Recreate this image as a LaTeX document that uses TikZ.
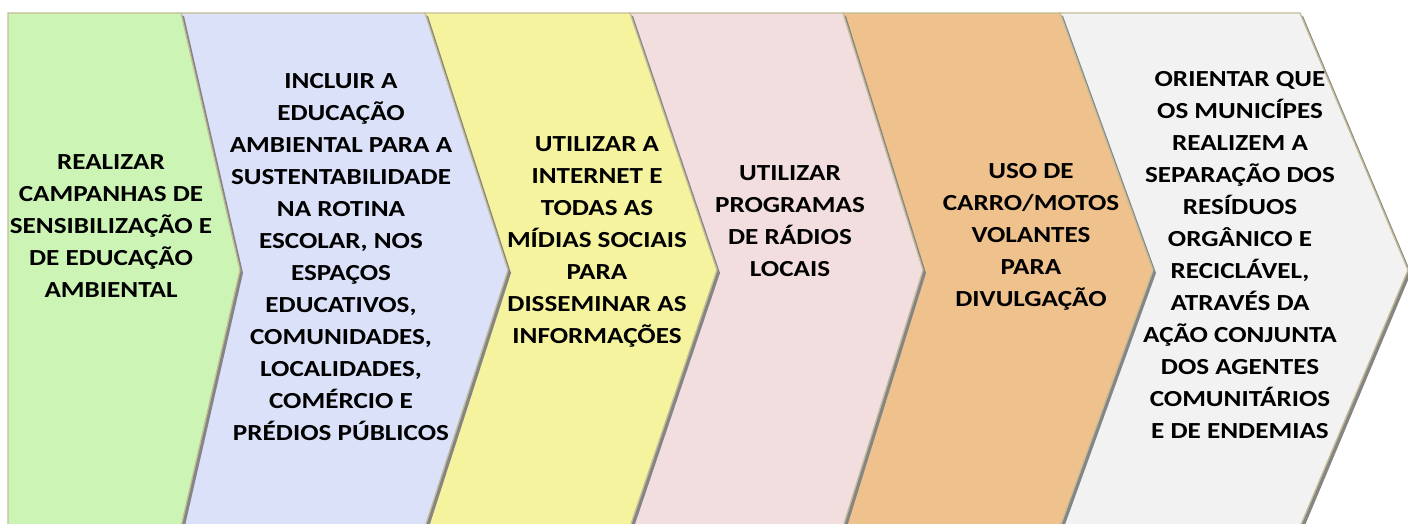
\documentclass[tikz,border=0pt]{standalone}
\usepackage{fontspec}
\setmainfont[FakeStretch=1.18]{Carlito}

\definecolor{chevgreen}{HTML}{CCF5B5}
\definecolor{chevblue}{HTML}{DAE1F8}
\definecolor{chevyellow}{HTML}{F5F39E}
\definecolor{chevpink}{HTML}{F2DEDE}
\definecolor{chevorange}{HTML}{EFC18D}
\definecolor{chevgray}{HTML}{F2F2F2}
\definecolor{chevline}{HTML}{C4BD97}
\definecolor{chevshadow}{HTML}{858585}

\begin{document}
\begin{tikzpicture}[x=1pt, y=-1pt,
  chevron/.style={draw=chevline, line width=1.3pt, line join=miter},
  chevshade/.style={fill=chevshadow},
  every node/.style={font=\bfseries\fontsize{23}{32}\selectfont, align=center, inner sep=0pt}
  ]
  \useasboundingbox (0,0) rectangle (1408,524);

  % chevrons, right to left so each shadow falls on the next one
  \foreach \l/\lt/\r/\rt/\col in {1060/1153/1300/1408/chevgray,
      843/923/1060/1153/chevorange, 630/717/843/923/chevpink,
      425/508/630/717/chevyellow, 181/240/425/508/chevblue,
      8/8/181/240/chevgreen} {
    \fill[chevshade, shift={(3,3)}] (\l,13) -- (\r,13) -- (\rt,270) -- (\r,527)
      -- (\l,527) -- (\lt,270) -- cycle;
    \draw[chevron, fill=\col] (\l,13) -- (\r,13) -- (\rt,270) -- (\r,527)
      -- (\l,527) -- (\lt,270) -- cycle;
  }

  \node (realizar) at (111,226) {REALIZAR\\CAMPANHAS DE\\SENSIBILIZAÇÃO E\\DE EDUCAÇÃO\\AMBIENTAL};
  \node (incluir) at (341,257) {INCLUIR A\\EDUCAÇÃO\\AMBIENTAL PARA A\\SUSTENTABILIDADE\\NA ROTINA\\ESCOLAR, NOS\\ESPAÇOS\\EDUCATIVOS,\\COMUNIDADES,\\LOCALIDADES,\\COMÉRCIO E\\PRÉDIOS PÚBLICOS};
  \node (internet) at (597,242) {UTILIZAR A\\INTERNET E\\TODAS AS\\MÍDIAS SOCIAIS\\PARA\\DISSEMINAR AS\\INFORMAÇÕES};
  \node (radios) at (790,221) {UTILIZAR\\PROGRAMAS\\DE RÁDIOS\\LOCAIS};
  \node (carro) at (1031,237) {USO DE\\CARRO/MOTOS\\VOLANTES\\PARA\\DIVULGAÇÃO};
  \node (orientar) at (1240,255) {ORIENTAR QUE\\OS MUNICÍPES\\REALIZEM A\\SEPARAÇÃO DOS\\RESÍDUOS\\ORGÂNICO E\\RECICLÁVEL,\\ATRAVÉS DA\\AÇÃO CONJUNTA\\DOS AGENTES\\COMUNITÁRIOS\\E DE ENDEMIAS};
\end{tikzpicture}
\end{document}
